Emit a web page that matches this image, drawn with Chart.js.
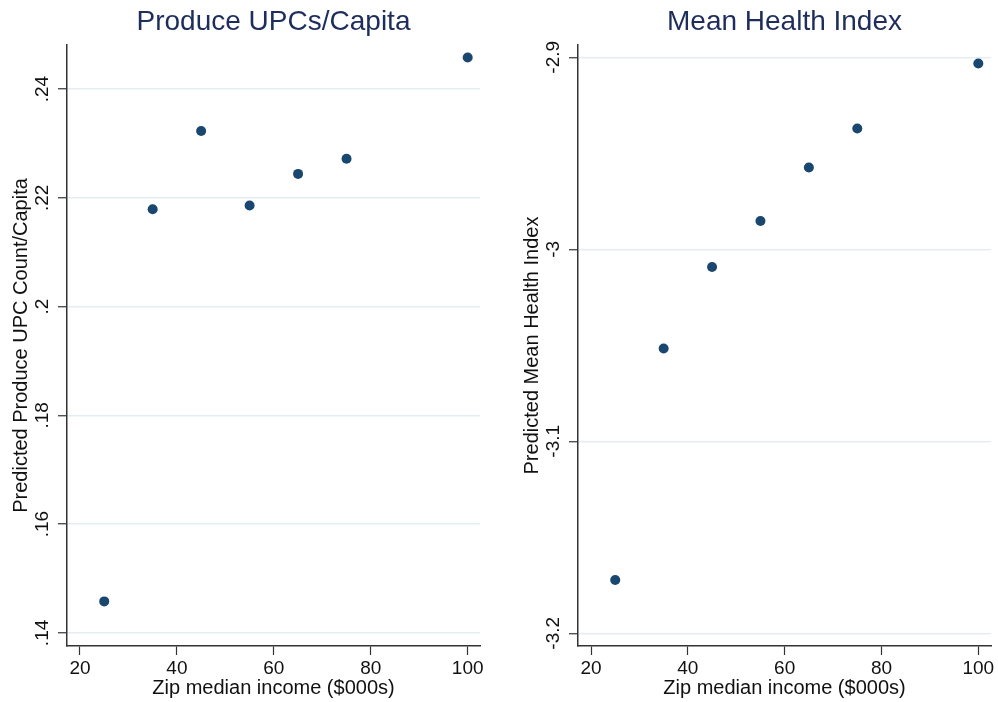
<!DOCTYPE html>
<html>
<head>
<meta charset="utf-8">
<title>Produce UPCs and Health Index by Income</title>
<script src="https://cdn.jsdelivr.net/npm/chart.js@4.4.1/dist/chart.umd.min.js"></script>
<style>
  body { margin: 0; background: #fff; }
  #wrap { position: relative; width: 998px; height: 702px; }
  canvas { position: absolute; top: 0; }
  #produce-chart { left: 0; }
  #health-chart { left: 499px; }
</style>
</head>
<body>
<div id="wrap">
  <canvas id="produce-chart" width="499" height="702"></canvas>
  <canvas id="health-chart" width="499" height="702"></canvas>
</div>
<script>
// zip median income bins ($000s)
const incomeBins = [25, 35, 45, 55, 65, 75, 100];
const incomeTicks = [20, 40, 60, 80, 100];

// predicted produce UPC count per capita
const produceUpcs = [0.1458, 0.2179, 0.2323, 0.2186, 0.2244, 0.2272, 0.2458];
const produceTicks = [0.14, 0.16, 0.18, 0.20, 0.22, 0.24];
const produceTickLabels = ['.14', '.16', '.18', '.2', '.22', '.24'];

// predicted mean health index
const healthIndex = [-3.1722, -3.0517, -3.0092, -2.9853, -2.9574, -2.9371, -2.9032];
const healthTicks = [-3.2, -3.1, -3.0, -2.9];
const healthTickLabels = ['-3.2', '-3.1', '-3', '-2.9'];

const FONT = '"Liberation Sans", Arial, Helvetica, sans-serif';
const NAVY = '#1a476f';
const INK = '#111';
const AXIS = '#333';
const GRID = '#e4edf0';

Chart.defaults.font.family = FONT;

// y tick labels are drawn turned on their side, reading upwards
const sidewaysYLabels = {
  id: 'sidewaysYLabels',
  afterDraw(chart, args, opts) {
    const scale = chart.scales.y;
    const ctx = chart.ctx;
    ctx.save();
    ctx.font = '19px ' + FONT;
    ctx.fillStyle = INK;
    ctx.textAlign = 'center';
    ctx.textBaseline = 'middle';
    scale.ticks.forEach((tick, i) => {
      const y = scale.getPixelForValue(tick.value);
      ctx.save();
      ctx.translate(chart.chartArea.left - 24, y);
      ctx.rotate(-Math.PI / 2);
      ctx.fillText(opts.labels[i], 0, 0);
      ctx.restore();
    });
    ctx.restore();
  }
};

function drawPanel(id, cfg) {
  return new Chart(document.getElementById(id), {
    type: 'scatter',
    data: {
      datasets: [{
        data: incomeBins.map((x, i) => ({ x: x, y: cfg.values[i] })),
        backgroundColor: NAVY,
        borderWidth: 0,
        pointRadius: 5,
        pointHoverRadius: 5
      }]
    },
    plugins: [sidewaysYLabels],
    options: {
      responsive: false,
      animation: false,
      devicePixelRatio: 1,
      layout: { padding: { left: 0, right: cfg.padRight, top: 0, bottom: 0 } },
      plugins: {
        legend: { display: false },
        tooltip: { enabled: false },
        title: {
          display: true,
          text: cfg.title,
          fullSize: false,
          color: '#1e2e5c',
          font: { size: 28, weight: 'normal' },
          padding: { top: 5, bottom: 6.4 }
        },
        sidewaysYLabels: { labels: cfg.tickLabels }
      },
      scales: {
        x: {
          type: 'linear',
          min: cfg.xMin,
          max: cfg.xMax,
          afterBuildTicks: s => { s.ticks = incomeTicks.map(v => ({ value: v })); },
          afterFit: s => { s.height = 56; },
          ticks: { color: INK, font: { size: 19 }, padding: 2, maxRotation: 0 },
          grid: { drawOnChartArea: false, drawTicks: true, tickLength: 9, tickColor: AXIS, tickWidth: 1.2 },
          border: { color: AXIS, width: 1.5 },
          title: {
            display: true,
            text: 'Zip median income ($000s)',
            color: INK,
            font: { size: 20 },
            padding: { top: 0, bottom: 2 }
          }
        },
        y: {
          type: 'linear',
          min: cfg.yMin,
          max: cfg.yMax,
          afterBuildTicks: s => { s.ticks = cfg.ticks.map(v => ({ value: v })); },
          afterFit: s => { s.width = cfg.yWidth; },
          ticks: { display: false },
          grid: { color: GRID, lineWidth: 1.5, drawTicks: true, tickLength: 9, tickColor: AXIS, tickWidth: 1.2 },
          border: { color: AXIS, width: 1.5 },
          title: {
            display: true,
            text: cfg.yTitle,
            color: INK,
            font: { size: 20 },
            padding: { top: cfg.yTitlePad, bottom: 0 }
          }
        }
      }
    }
  });
}

document.addEventListener('DOMContentLoaded', function () {
  drawPanel('produce-chart', {
    title: 'Produce UPCs/Capita',
    yTitle: 'Predicted Produce UPC Count/Capita',
    values: produceUpcs,
    ticks: produceTicks,
    tickLabels: produceTickLabels,
    xMin: 17.32, xMax: 102.54,
    yMin: 0.1376, yMax: 0.2481,
    yWidth: 67, padRight: 19, yTitlePad: 9
  });
  drawPanel('health-chart', {
    title: 'Mean Health Index',
    yTitle: 'Predicted Mean Health Index',
    values: healthIndex,
    ticks: healthTicks,
    tickLabels: healthTickLabels,
    xMin: 17.31, xMax: 102.62,
    yMin: -3.2066, yMax: -2.8936,
    yWidth: 79, padRight: 7, yTitlePad: 21
  });
});
</script>
</body>
</html>
